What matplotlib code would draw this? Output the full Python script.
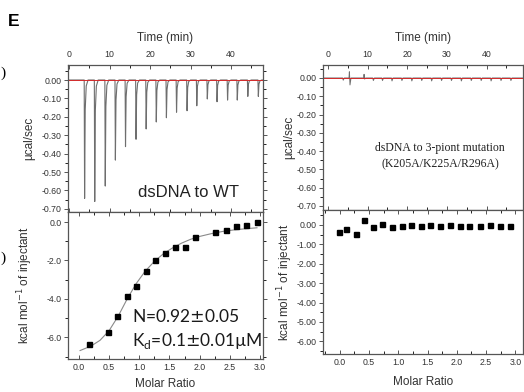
import numpy as np
import matplotlib
matplotlib.use("Agg")
import matplotlib.pyplot as plt
from matplotlib.ticker import MultipleLocator, FormatStrFormatter

plt.rcParams['font.family'] = ['Liberation Sans', 'DejaVu Sans']

# ---------------- data ----------------
# WT raw thermogram: injection times (min) and peak depths (ucal/sec)
wt_inj_time = [3.8, 6.3, 8.9, 11.4, 13.9, 16.5, 19.0, 21.5, 24.0, 26.5, 29.1,
               31.5, 34.1, 36.5, 39.1, 41.5, 44.1, 46.7]
wt_peak = [-0.643, -0.660, -0.576, -0.435, -0.362, -0.322, -0.266, -0.228, -0.205,
           -0.175, -0.167, -0.140, -0.103, -0.118, -0.109, -0.109, -0.089, -0.089]

# WT integrated heats
wt_ratio = [0.17, 0.476, 0.635, 0.791, 0.950, 1.106, 1.265, 1.426, 1.587, 1.758,
            1.924, 2.255, 2.433, 2.604, 2.774, 2.947]
wt_heat = [-6.34, -5.70, -4.90, -3.84, -3.32, -2.53, -1.97, -1.63, -1.30, -1.30,
           -0.76, -0.52, -0.42, -0.21, -0.16, 0.0]

# WT fit curve
fit_ratio = [0.02, 0.2, 0.35, 0.5, 0.65, 0.8, 0.95, 1.1, 1.25, 1.4, 1.55, 1.7,
             1.85, 2.0, 2.2, 2.4, 2.6, 2.8, 2.95]
fit_heat = [-6.68, -6.45, -6.15, -5.65, -4.90, -4.00, -3.20, -2.55, -2.05, -1.65,
            -1.35, -1.10, -0.90, -0.75, -0.60, -0.48, -0.40, -0.34, -0.30]

# mutant raw thermogram: injection times, upward and downward excursions
mut_inj_time = [3.7, 5.4, 9.1, 11.3, 13.6, 16.0, 18.5, 21.0, 23.5, 26.0, 28.5,
                31.0, 33.5, 36.0, 38.5, 41.0, 43.5, 46.0]
mut_up = [0.0, 0.034, 0.020, 0.0, 0.0, 0.0, 0.0, 0.0, 0.0, 0.0, 0.0, 0.0, 0.0,
          0.0, 0.0, 0.0, 0.0, 0.0]
mut_down = [-0.012, -0.038, -0.006, -0.014, -0.014, -0.016, -0.014, -0.016,
            -0.014, -0.016, -0.014, -0.014, -0.016, -0.014, -0.014, -0.016,
            -0.014, -0.014]

# mutant integrated heats
mut_ratio = [-0.02, 0.11, 0.27, 0.42, 0.57, 0.73, 0.89, 1.06, 1.22, 1.38, 1.54,
             1.71, 1.88, 2.06, 2.21, 2.40, 2.57, 2.74, 2.91]
mut_heat = [-0.35, -0.19, -0.45, 0.27, -0.12, 0.04, -0.09, -0.05, -0.02, -0.04,
            -0.02, -0.05, -0.02, -0.05, -0.05, -0.07, -0.02, -0.04, -0.05]

# ---------------- build traces ----------------
def wt_trace(times, peaks):
    t = [-0.5]
    y = [0.0]
    for ti, d in zip(times, peaks):
        t += [ti - 0.05, ti + 0.05, ti + 0.2, ti + 0.45, ti + 0.9]
        y += [0.0, d, 0.25 * d, 0.05 * d, 0.0]
    t.append(50)
    y.append(0.0)
    return t, y

def mut_trace(times, ups, downs):
    t = [-2]
    y = [0.0]
    for ti, u, d in zip(times, ups, downs):
        t += [ti - 0.1, ti, ti + 0.15, ti + 0.4]
        y += [0.0, u, d, 0.0]
    t.append(50)
    y.append(0.0)
    return t, y

W, H = 524, 392
fig = plt.figure(figsize=(W / 100, H / 100), dpi=100)

def rect(x0, y0, x1, y1):
    return [x0 / W, (H - y1) / H, (x1 - x0) / W, (y1 - y0) / H]

ax1 = fig.add_axes(rect(68, 65, 263, 212))
ax2 = fig.add_axes(rect(68, 212, 263, 359))
ax3 = fig.add_axes(rect(323, 65, 523, 210))
ax4 = fig.add_axes(rect(323, 210, 523, 354))

spine_c = '#555555'
text_c = '#333333'
tick_fs = 6.3
lab_fs = 8.5

for ax in (ax1, ax2, ax3, ax4):
    for s in ax.spines.values():
        s.set_color(spine_c)
        s.set_linewidth(0.9)
    ax.tick_params(colors=spine_c, labelcolor=text_c, labelsize=tick_fs,
                   width=0.7)
    ax.tick_params(which='major', length=3)
    ax.tick_params(which='minor', length=2.5)

# ---- top raw panels ----
for ax, xlim, ylim in ((ax1, (-0.25, 47.9), (-0.717, 0.0815)),
                       (ax3, (-1.26, 49.2), (-0.722, 0.071))):
    ax.set_xlim(*xlim)
    ax.set_ylim(*ylim)
    ax.xaxis.set_ticks_position('top')
    ax.xaxis.set_label_position('top')
    ax.xaxis.set_major_locator(MultipleLocator(10))
    ax.xaxis.set_minor_locator(MultipleLocator(5))
    ax.yaxis.set_major_locator(MultipleLocator(0.1))
    ax.yaxis.set_minor_locator(MultipleLocator(0.05))
    ax.yaxis.set_major_formatter(FormatStrFormatter('%.2f'))
    ax.tick_params(axis='x', which='both', direction='in', top=True, bottom=True,
                   pad=4)
    ax.tick_params(axis='y', which='both', direction='out', left=True, right=True,
                   pad=1.5)
    ax.set_xlabel('Time (min)', fontsize=lab_fs, color=text_c, labelpad=7)
    ax.set_ylabel('µcal/sec', fontsize=lab_fs, color=text_c)

t1, y1 = wt_trace(wt_inj_time, wt_peak)
ax1.plot(t1, y1, color='#6e6e6e', lw=0.8)
ax1.axhline(0, color='#d42a2a', lw=0.7)
ax1.text(0.62, 0.13, 'dsDNA to WT', transform=ax1.transAxes, fontsize=12,
         color='#222222', ha='center', va='center')

t3, y3 = mut_trace(mut_inj_time, mut_up, mut_down)
ax3.plot(t3, y3, color='#6e6e6e', lw=0.7)
ax3.axhline(0, color='#d42a2a', lw=0.7)
ax3.text(0.585, 0.372, 'dsDNA to 3-piont mutation\n(K205A/K225A/R296A)',
         transform=ax3.transAxes, fontsize=8.5, color='#222222', ha='center',
         va='center', family=['Liberation Serif', 'DejaVu Serif'],
         linespacing=1.45)

# ---- bottom integrated panels ----
ax2.set_xlim(-0.18, 3.05)
ax2.set_ylim(-7.12, 0.52)
ax2.yaxis.set_major_locator(MultipleLocator(2.0))
ax2.yaxis.set_minor_locator(MultipleLocator(1.0))
ax2.yaxis.set_major_formatter(FormatStrFormatter('%.1f'))

ax4.set_xlim(-0.285, 3.13)
ax4.set_ylim(-6.65, 0.77)
ax4.yaxis.set_major_locator(MultipleLocator(1.0))
ax4.yaxis.set_minor_locator(MultipleLocator(0.5))
ax4.yaxis.set_major_formatter(FormatStrFormatter('%.2f'))

for ax in (ax2, ax4):
    ax.xaxis.set_major_locator(MultipleLocator(0.5))
    ax.xaxis.set_minor_locator(MultipleLocator(0.25))
    ax.xaxis.set_major_formatter(FormatStrFormatter('%.1f'))
    ax.tick_params(axis='x', which='both', direction='in', top=True, bottom=True,
                   pad=3)
    ax.tick_params(axis='y', which='both', direction='out', left=True, right=True,
                   pad=1.5)
    ax.set_xlabel('Molar Ratio', fontsize=lab_fs, color=text_c)
    ax.set_ylabel('kcal mol$^{-1}$ of injectant', fontsize=lab_fs, color=text_c)

ax2.xaxis.set_label_coords(0.5, -0.13)
ax4.xaxis.set_label_coords(0.5, -0.153)

ax2.plot(fit_ratio, fit_heat, color='#8a8a8a', lw=0.8, zorder=2)
ax2.plot(wt_ratio, wt_heat, 's', color='black', ms=3.6, zorder=3)
ax2.text(0.33, 0.29, 'N=0.92$\\pm$0.05', transform=ax2.transAxes, fontsize=12.5,
         color='#1a1a1a', ha='left', va='center', family=['Lato', 'DejaVu Sans'])
ax2.text(0.33, 0.12, 'K$_\\mathregular{d}$=0.1$\\pm$0.01µM', transform=ax2.transAxes,
         fontsize=12.5, color='#1a1a1a', ha='left', va='center',
         family=['Lato', 'DejaVu Sans'])

ax4.plot(mut_ratio, mut_heat, 's', color='black', ms=3.6, zorder=3)

for ax in (ax1, ax2):
    ax.yaxis.set_label_coords(-0.17, 0.5)
for ax in (ax3, ax4):
    ax.yaxis.set_label_coords(-0.14, 0.5)

# panel letter and cut-off brackets from neighbouring panel
fig.text(8 / W, 1 - 21 / H, 'E', fontsize=12.5, fontweight='bold', ha='left',
         va='center', color='black')
fig.text(0 / W, 1 - 73 / H, ')', fontsize=11, ha='left', va='center',
         family=['Liberation Serif', 'DejaVu Serif'])
fig.text(0 / W, 1 - 258 / H, ')', fontsize=11, ha='left', va='center',
         family=['Liberation Serif', 'DejaVu Serif'])

fig.savefig('out.png', dpi=100)
